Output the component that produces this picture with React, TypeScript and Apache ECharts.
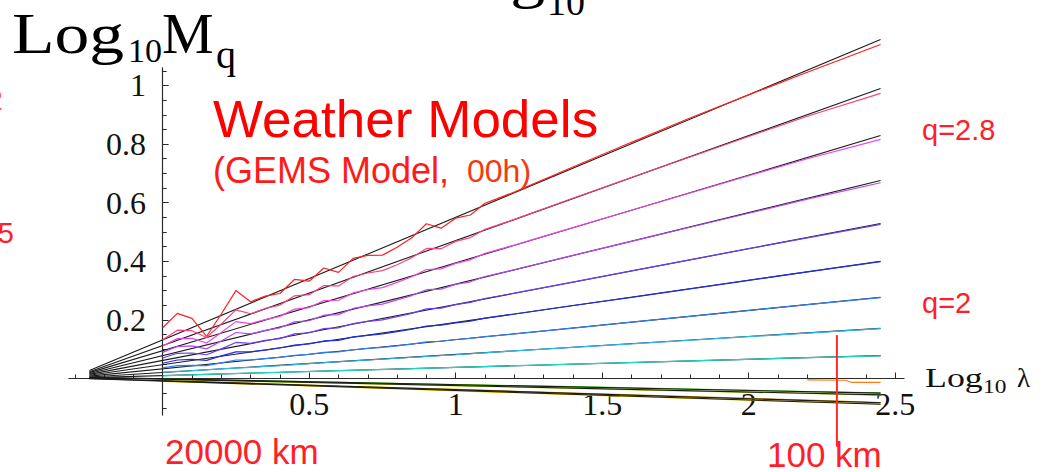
import React, { useEffect, useRef } from "react";
import * as echarts from "echarts";

// Straight-line fits of Log10 Mq against Log10 λ (start and end of each fit)
const fitX = [-0.25, 2.45];
const fitStart = [0.027, 0.023, 0.02, 0.017, 0.014, 0.011, 0.008, 0.005, 0.003, 0.004, 0.003, 0.0, -0.001];
const fitEnd = [1.157, 0.99, 0.829, 0.676, 0.529, 0.4, 0.277, 0.171, 0.078, -0.05, -0.056, -0.083, -0.088];

// Log10 λ of the binned moments (fine bins at large scale, coarser where smooth)
const noisyX = [0, 0.05, 0.1, 0.15, 0.2, 0.25, 0.3, 0.35, 0.4, 0.45, 0.5, 0.55, 0.6, 0.65, 0.7, 0.75, 0.8, 0.85, 0.9, 0.95, 1.0, 1.05, 1.1];
const smoothX = [1.2, 1.4, 1.6, 1.8, 2.0, 2.2, 2.45];
const upperX = [...noisyX, ...smoothX];

const mq32 = [0.173, 0.222, 0.205, 0.144, 0.22, 0.3, 0.262, 0.281, 0.29, 0.338, 0.332, 0.377, 0.362, 0.41, 0.42, 0.421, 0.448, 0.48, 0.528, 0.513, 0.547, 0.558, 0.598, 0.636, 0.722, 0.806, 0.889, 0.968, 1.045, 1.14];
const mq30 = [0.132, 0.165, 0.163, 0.14, 0.186, 0.234, 0.221, 0.239, 0.25, 0.282, 0.286, 0.317, 0.316, 0.348, 0.36, 0.368, 0.388, 0.412, 0.444, 0.443, 0.468, 0.481, 0.509, 0.543, 0.615, 0.686, 0.756, 0.826, 0.895, 0.973];
const mq28 = [0.111, 0.136, 0.137, 0.121, 0.157, 0.194, 0.187, 0.201, 0.212, 0.237, 0.242, 0.266, 0.267, 0.292, 0.303, 0.31, 0.328, 0.347, 0.372, 0.374, 0.393, 0.405, 0.427, 0.455, 0.515, 0.574, 0.633, 0.692, 0.75, 0.816];
const mq26 = [0.089, 0.109, 0.111, 0.101, 0.128, 0.157, 0.152, 0.164, 0.173, 0.193, 0.197, 0.216, 0.218, 0.239, 0.248, 0.254, 0.268, 0.283, 0.303, 0.305, 0.321, 0.33, 0.348, 0.371, 0.42, 0.468, 0.516, 0.564, 0.612, 0.668];
const mq24 = [0.07, 0.086, 0.087, 0.081, 0.101, 0.123, 0.12, 0.13, 0.136, 0.152, 0.156, 0.17, 0.173, 0.187, 0.195, 0.2, 0.211, 0.222, 0.238, 0.24, 0.252, 0.26, 0.273, 0.291, 0.329, 0.367, 0.405, 0.443, 0.48, 0.526];
const mq22 = [0.052, 0.063, 0.065, 0.062, 0.077, 0.091, 0.091, 0.097, 0.104, 0.114, 0.118, 0.128, 0.13, 0.142, 0.147, 0.152, 0.16, 0.168, 0.179, 0.182, 0.19, 0.196, 0.206, 0.22, 0.249, 0.277, 0.306, 0.335, 0.364, 0.399];
const mq20 = [0.036, 0.044, 0.045, 0.044, 0.053, 0.063, 0.063, 0.068, 0.072, 0.079, 0.082, 0.089, 0.091, 0.098, 0.103, 0.106, 0.111, 0.117, 0.125, 0.127, 0.133, 0.137, 0.143, 0.152, 0.172, 0.192, 0.212, 0.232, 0.252, 0.276];

const mq18X = [0, 0.1, 0.2, 0.3, 0.4, 0.6, 0.8, 1.0, 1.2, 1.6, 2.0, 2.45];
const mq18 = [0.022, 0.027, 0.033, 0.038, 0.044, 0.057, 0.069, 0.081, 0.094, 0.118, 0.143, 0.17];
const mq16X = [0, 0.2, 0.4, 0.6, 0.8, 1.0, 1.4, 1.8, 2.2, 2.45];
const mq16 = [0.009, 0.016, 0.021, 0.027, 0.032, 0.038, 0.049, 0.06, 0.071, 0.077];

const nearZeroX = [2.2, 2.33, 2.35, 2.45];
const nearZero = [-0.005, -0.006, -0.013, -0.013];

const lowX = [0, 0.3, 0.6, 1.0, 1.4, 1.8, 2.2, 2.45];
const low1 = [-0.002, -0.007, -0.013, -0.021, -0.028, -0.036, -0.045, -0.049];
const low2 = [-0.003, -0.01, -0.016, -0.025, -0.034, -0.043, -0.051, -0.057];
const low3 = [-0.007, -0.016, -0.026, -0.037, -0.05, -0.062, -0.074, -0.082];
const low4 = [-0.01, -0.019, -0.029, -0.042, -0.055, -0.068, -0.08, -0.087];

// λ = 100 km marker
const markerX = 2.301;
const markerY = [0.148, -0.233];

const xMajor = [0.5, 1, 1.5, 2, 2.5];
const xMinor = [-0.3, -0.2, -0.1, 0.1, 0.2, 0.3, 0.4, 0.6, 0.7, 0.8, 0.9, 1.1, 1.2, 1.3, 1.4, 1.6, 1.7, 1.8, 1.9, 2.1, 2.2, 2.3, 2.4];
const yMajor = [0.2, 0.4, 0.6, 0.8, 1];
const yMinor = [-0.1, -0.05, 0.05, 0.1, 0.15, 0.25, 0.3, 0.35, 0.45, 0.5, 0.55, 0.65, 0.7, 0.75, 0.85, 0.9, 0.95, 1.05];

const SERIF = "'Liberation Serif', 'DejaVu Serif', serif";
const SANS = "'Liberation Sans', Arial, sans-serif";
const RED = "#ff1e2a";

const zip = (xs: number[], ys: number[]) => xs.map((x, i) => [x, ys[i]]);
const fmt = (v: number) => String(Number(v.toFixed(2)));

export default function App() {
  const ref = useRef<HTMLDivElement>(null);

  useEffect(() => {
    if (!ref.current) return;
    const chart = echarts.init(ref.current, undefined, { renderer: "svg" });

    const fitSeries = fitStart.map((s, i) => ({
      type: "line",
      name: "fit" + i,
      data: [[fitX[0], s], [fitX[1], fitEnd[i]]],
      symbol: "none",
      silent: true,
      clip: false,
      z: 3,
      lineStyle: { color: "#1b1b1b", width: 1.1 },
    }));

    const dataLines: { x: number[]; y: number[]; color: string; under?: boolean }[] = [
      { x: upperX, y: mq32, color: "#ff1f1f" },
      { x: upperX, y: mq30, color: "#ff3f86" },
      { x: upperX, y: mq28, color: "#f043e6" },
      { x: upperX, y: mq26, color: "#b846ff" },
      { x: upperX, y: mq24, color: "#6a3cff" },
      { x: upperX, y: mq22, color: "#1f2cf0" },
      { x: upperX, y: mq20, color: "#2f7cff" },
      { x: mq18X, y: mq18, color: "#2fb8f4" },
      { x: mq16X, y: mq16, color: "#25d6bf" },
      { x: nearZeroX, y: nearZero, color: "#ff7a10" },
      { x: lowX, y: low1, color: "#35d800", under: true },
      { x: lowX, y: low2, color: "#c4e400", under: true },
      { x: lowX, y: low3, color: "#b08a00", under: true },
      { x: lowX, y: low4, color: "#f5d000", under: true },
    ];

    const dataSeries = dataLines.map((d, i) => ({
      type: "line",
      name: "data" + i,
      data: zip(d.x, d.y),
      symbol: "none",
      silent: true,
      clip: false,
      z: d.under ? 2 : 4,
      lineStyle: { color: d.color, width: 1.2 },
    }));

    const markerSeries = {
      type: "line",
      name: "100 km",
      data: markerY.map((y) => [markerX, y]),
      symbol: "none",
      silent: true,
      clip: false,
      z: 6,
      lineStyle: { color: "#ff2a2a", width: 2 },
    };

    const axisColor = "#2a2a2a";

    const text = (
      x: number,
      y: number,
      t: string,
      size: number,
      family: string,
      color: string,
      align: string = "left",
      scaleX = 1
    ) => ({
      type: "text",
      x,
      y,
      scaleX,
      z: 10,
      silent: true,
      style: {
        text: t,
        x: 0,
        y: 0,
        fontSize: size,
        fontFamily: family,
        fill: color,
        align,
        verticalAlign: "middle",
      },
    });

    chart.setOption({
      animation: false,
      backgroundColor: "#ffffff",
      grid: {
        left: 68.9,
        right: 150,
        top: 67.9,
        bottom: 56.9,
        containLabel: false,
        outerBoundsMode: "none",
      },
      xAxis: [
        {
          type: "value",
          min: -0.32,
          max: 2.53,
          position: "bottom",
          axisLine: { show: true, onZero: true, lineStyle: { color: axisColor, width: 1.2 } },
          axisTick: { show: true, inside: true, length: 6, customValues: xMajor, lineStyle: { color: axisColor, width: 1 } },
          axisLabel: {
            show: true,
            customValues: xMajor,
            formatter: fmt,
            fontFamily: SERIF,
            fontSize: 32,
            color: "#15120c",
            margin: -27,
          },
          splitLine: { show: false },
        },
        {
          type: "value",
          min: -0.32,
          max: 2.53,
          position: "bottom",
          axisLine: { show: false, onZero: true },
          axisTick: { show: true, inside: true, length: 4, customValues: xMinor, lineStyle: { color: axisColor, width: 1 } },
          axisLabel: { show: false },
          splitLine: { show: false },
        },
      ],
      yAxis: [
        {
          type: "value",
          min: -0.125,
          max: 1.06,
          position: "left",
          axisLine: { show: true, onZero: true, lineStyle: { color: axisColor, width: 1.2 } },
          axisTick: { show: true, inside: true, length: 6, customValues: yMajor, lineStyle: { color: axisColor, width: 1 } },
          axisLabel: {
            show: true,
            customValues: yMajor,
            formatter: fmt,
            fontFamily: SERIF,
            fontSize: 32,
            color: "#15120c",
            margin: -77,
          },
          splitLine: { show: false },
        },
        {
          type: "value",
          min: -0.125,
          max: 1.06,
          position: "left",
          axisLine: { show: false, onZero: true },
          axisTick: { show: true, inside: true, length: 4, customValues: yMinor, lineStyle: { color: axisColor, width: 1 } },
          axisLabel: { show: false },
          splitLine: { show: false },
        },
      ],
      series: [...fitSeries, ...dataSeries, markerSeries],
      graphic: [
        // y-axis title Log10 Mq
        text(12, 33.4, "Log", 58, SERIF, "#000", "left", 1.2),
        text(128, 50.5, "10", 34, SERIF, "#000"),
        text(162, 33.4, "M", 58, SERIF, "#000"),
        text(216, 54.5, "q", 40, SERIF, "#000"),
        // title fragment above the plot
        text(545, -22, "Log", 58, SERIF, "#000", "right", 1.2),
        text(547, 2, "10", 38, SERIF, "#000"),
        // x-axis title Log10 λ
        text(925, 378, "Log", 27, SERIF, "#111", "left", 1.33),
        text(983, 387, "10", 18, SERIF, "#111", "left", 1.3),
        text(1017, 378, "λ", 27, SERIF, "#111"),
        // annotations
        text(213, 119, "Weather Models", 52, SANS, "#ff0000", "left", 1.02),
        text(213, 170, "(GEMS Model, ", 36, SANS, "#ff1a1a"),
        text(467, 171, "00h)", 32, SANS, "#f53a12"),
        text(922, 130, "q=2.8", 29, SANS, RED),
        text(922, 303, "q=2", 29, SANS, RED),
        text(165, 451, "20000 km", 35, SANS, RED),
        text(767, 454, "100 km", 35, SANS, RED),
        text(14, 233, "0.5", 29, SANS, RED, "right"),
        text(3, 100, "q=2", 29, SANS, "#ff5a66", "right"),
      ],
    } as any);

    return () => chart.dispose();
  }, []);

  return (
    <div
      ref={ref}
      style={{ position: "absolute", left: 0, top: 0, width: 1054, height: 472, background: "#fff" }}
    />
  );
}
